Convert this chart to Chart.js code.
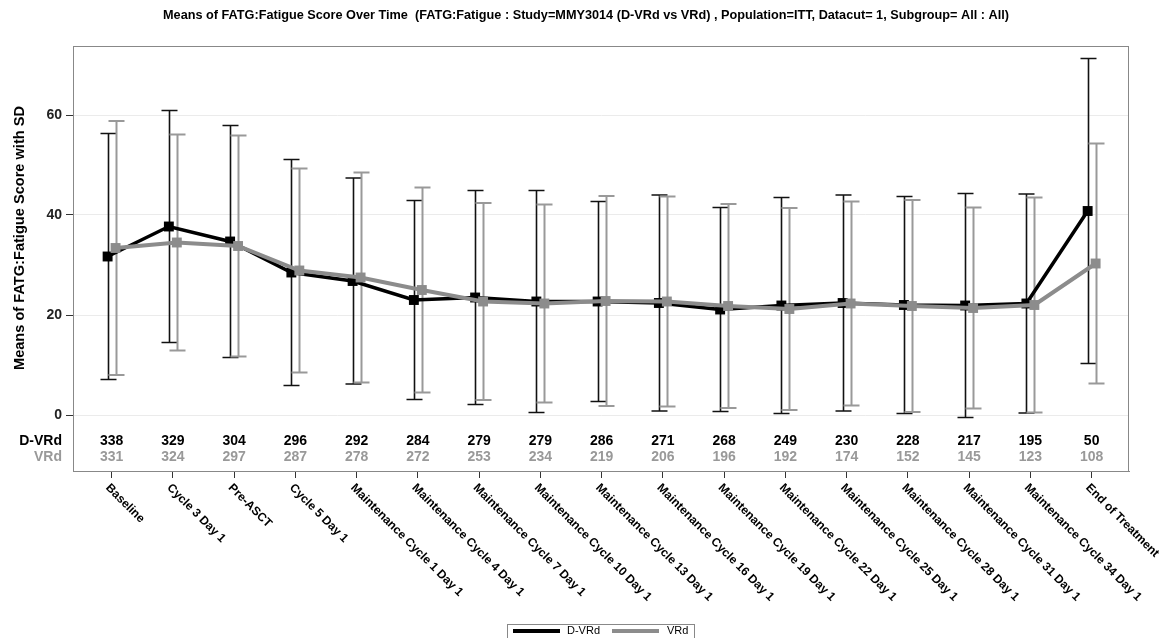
<!DOCTYPE html>
<html lang="en">
<head>
<meta charset="UTF-8">
<title>Means of FATG:Fatigue Score Over Time</title>
<script src="https://cdn.jsdelivr.net/npm/chart.js"></script>
<style>
    body {
        margin: 0;
        padding: 0;
        background-color: #ffffff;
    }
    #chart-box {
        width: 1159px;
        height: 638px;
        position: relative;
    }
</style>
</head>
<body>
<div id="chart-box">
    <canvas id="fatigueChart"></canvas>
</div>
<script>
const visits = [
    'Baseline', 'Cycle 3 Day 1', 'Pre-ASCT', 'Cycle 5 Day 1',
    'Maintenance Cycle 1 Day 1', 'Maintenance Cycle 4 Day 1', 'Maintenance Cycle 7 Day 1',
    'Maintenance Cycle 10 Day 1', 'Maintenance Cycle 13 Day 1', 'Maintenance Cycle 16 Day 1',
    'Maintenance Cycle 19 Day 1', 'Maintenance Cycle 22 Day 1', 'Maintenance Cycle 25 Day 1',
    'Maintenance Cycle 28 Day 1', 'Maintenance Cycle 31 Day 1', 'Maintenance Cycle 34 Day 1',
    'End of Treatment'
];

// mean and SD per visit
const dvrdMean = [31.7, 37.7, 34.7, 28.5, 26.8, 23.0, 23.5, 22.7, 22.7, 22.4, 21.1, 21.9, 22.4, 22.0, 21.9, 22.3, 40.8];
const dvrdSD   = [24.6, 23.2, 23.2, 22.6, 20.6, 19.9, 21.4, 22.2, 20.0, 21.6, 20.4, 21.6, 21.6, 21.7, 22.4, 21.9, 30.5];
const vrdMean  = [33.4, 34.5, 33.8, 28.9, 27.5, 25.0, 22.7, 22.3, 22.8, 22.7, 21.8, 21.2, 22.3, 21.8, 21.4, 22.0, 30.3];
const vrdSD    = [25.4, 21.6, 22.1, 20.4, 21.0, 20.5, 19.7, 19.8, 21.0, 21.0, 20.4, 20.2, 20.4, 21.2, 20.1, 21.5, 24.0];

// subjects at each visit
const dvrdN = [338, 329, 304, 296, 292, 284, 279, 279, 286, 271, 268, 249, 230, 228, 217, 195, 50];
const vrdN  = [331, 324, 297, 287, 278, 272, 253, 234, 219, 206, 196, 192, 174, 152, 145, 123, 108];

const yTickValues = [0, 20, 40, 60];

const FONT = '"Liberation Sans", Arial, sans-serif';
const DODGE = 0.065;
const BLACK = '#000000';
const GREY = '#8c8c8c';

const series = [
    { name: 'D-VRd', mean: dvrdMean, sd: dvrdSD, n: dvrdN, off: -DODGE, line: BLACK, bar: '#111111', text: '#000000' },
    { name: 'VRd', mean: vrdMean, sd: vrdSD, n: vrdN, off: DODGE, line: GREY, bar: '#999999', text: '#999999' }
];

// error bars, table, labels, frame and legend
const extras = {
    id: 'extras',
    beforeDatasetsDraw(chart) {
        const { ctx, scales: { x, y } } = chart;
        ctx.save();
        series.forEach(s => {
            ctx.strokeStyle = s.bar;
            ctx.lineWidth = s.name === 'VRd' ? 2 : 1.6;
            s.mean.forEach((m, i) => {
                const px = Math.round(x.getPixelForValue(i + s.off)) + 0.5;
                const top = y.getPixelForValue(m + s.sd[i]);
                const bot = y.getPixelForValue(m - s.sd[i]);
                ctx.beginPath();
                ctx.moveTo(px, top);
                ctx.lineTo(px, bot);
                ctx.moveTo(px - 8, top);
                ctx.lineTo(px + 8, top);
                ctx.moveTo(px - 8, bot);
                ctx.lineTo(px + 8, bot);
                ctx.stroke();
            });
        });
        ctx.restore();
    },
    afterDraw(chart) {
        const { ctx, chartArea: a, scales: { x } } = chart;
        ctx.save();

        // frame
        ctx.strokeStyle = '#888888';
        ctx.lineWidth = 1;
        ctx.strokeRect(a.left + 0.5, a.top + 0.5, a.right - a.left - 1, a.bottom - a.top);

        // title
        ctx.fillStyle = '#000';
        ctx.font = 'bold 12.7px ' + FONT;
        ctx.textAlign = 'center';
        ctx.textBaseline = 'middle';
        ctx.fillText('Means of FATG:Fatigue Score Over Time  (FATG:Fatigue : Study=MMY3014 (D-VRd vs VRd) , Population=ITT, Datacut= 1, Subgroup= All : All)', 586, 15);

        // y axis title
        ctx.save();
        ctx.translate(20, 238);
        ctx.rotate(-Math.PI / 2);
        ctx.font = 'bold 14.6px ' + FONT;
        ctx.fillText('Means of FATG:Fatigue Score with SD', 0, 0);
        ctx.restore();

        // numbers of subjects
        const rowY = [441, 457];
        series.forEach((s, r) => {
            ctx.fillStyle = s.text;
            ctx.font = 'bold 14px ' + FONT;
            ctx.textAlign = 'right';
            ctx.fillText(s.name, a.left - 11, rowY[r]);
            ctx.textAlign = 'center';
            s.n.forEach((v, i) => {
                ctx.fillText(String(v), x.getPixelForValue(i), rowY[r]);
            });
        });

        // slanted visit labels
        ctx.fillStyle = '#000';
        ctx.font = 'bold 12px ' + FONT;
        ctx.textAlign = 'left';
        ctx.textBaseline = 'middle';
        visits.forEach((v, i) => {
            ctx.save();
            ctx.translate(x.getPixelForValue(i) - 4, a.bottom + 15);
            ctx.rotate(Math.PI / 4);
            ctx.fillText(v, 0, 0);
            ctx.restore();
        });

        // legend
        ctx.strokeStyle = '#888888';
        ctx.lineWidth = 1;
        ctx.strokeRect(507.5, 624.5, 187, 16);
        ctx.lineWidth = 4;
        ctx.strokeStyle = BLACK;
        ctx.beginPath(); ctx.moveTo(513, 631); ctx.lineTo(560, 631); ctx.stroke();
        ctx.strokeStyle = GREY;
        ctx.beginPath(); ctx.moveTo(612, 631); ctx.lineTo(659, 631); ctx.stroke();
        ctx.fillStyle = '#000';
        ctx.font = '11px ' + FONT;
        ctx.textAlign = 'left';
        ctx.fillText('D-VRd', 567, 631);
        ctx.fillText('VRd', 667, 631);

        ctx.restore();
    }
};

function points(s) {
    return s.mean.map((m, i) => ({ x: i + s.off, y: m }));
}

const ctx = document.getElementById('fatigueChart').getContext('2d');
new Chart(ctx, {
    type: 'line',
    data: {
        datasets: [
            {
                label: 'D-VRd',
                data: points(series[0]),
                borderColor: BLACK,
                backgroundColor: BLACK,
                borderWidth: 3.5,
                pointStyle: 'rect',
                pointRadius: 7,
                pointBorderWidth: 0,
                tension: 0,
                order: 1
            },
            {
                label: 'VRd',
                data: points(series[1]),
                borderColor: GREY,
                backgroundColor: GREY,
                borderWidth: 4,
                pointStyle: 'rect',
                pointRadius: 7,
                pointBorderWidth: 0,
                tension: 0,
                order: 0
            }
        ]
    },
    options: {
        responsive: true,
        maintainAspectRatio: false,
        animation: false,
        layout: { padding: { top: 46, right: 30, left: 0, bottom: 0 } },
        plugins: {
            legend: { display: false },
            tooltip: { enabled: false }
        },
        scales: {
            x: {
                type: 'linear',
                min: -0.63,
                max: 16.61,
                afterBuildTicks: scale => {
                    scale.ticks = visits.map((v, i) => ({ value: i }));
                },
                afterFit: scale => { scale.height = 167; },
                ticks: { display: false },
                grid: {
                    drawOnChartArea: false,
                    drawTicks: true,
                    tickLength: 7,
                    tickColor: '#333333'
                },
                border: { display: true, color: '#888888' }
            },
            y: {
                min: -11.2,
                max: 73.8,
                afterBuildTicks: scale => {
                    scale.ticks = yTickValues.map(v => ({ value: v }));
                },
                afterFit: scale => { scale.width = 73; },
                ticks: {
                    color: '#222222',
                    font: { family: FONT, size: 14, weight: 'bold' },
                    padding: 4
                },
                grid: {
                    color: '#ebebeb',
                    tickColor: '#333333',
                    tickLength: 7
                },
                border: { display: true, color: '#888888' }
            }
        }
    },
    plugins: [extras]
});
</script>
</body>
</html>
